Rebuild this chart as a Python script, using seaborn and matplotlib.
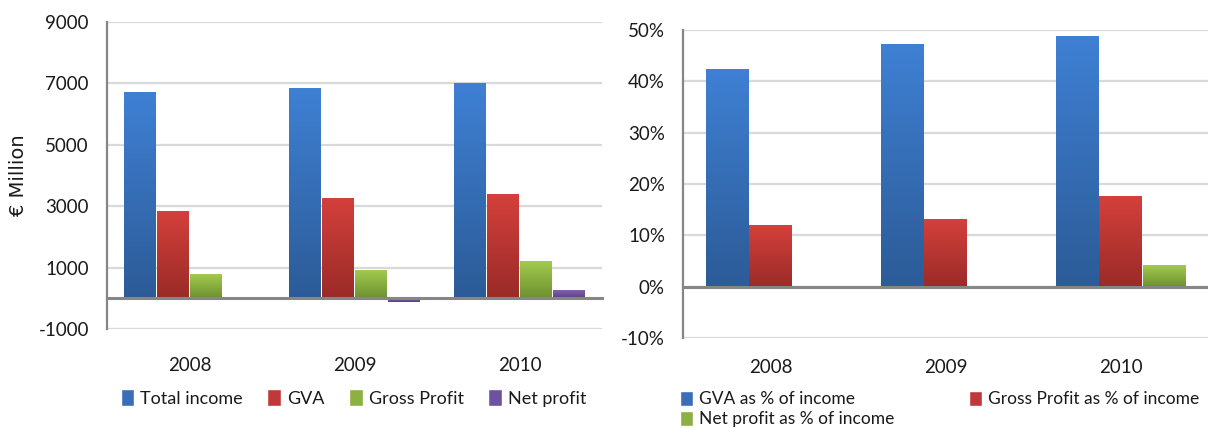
import numpy as np
import pandas as pd
import matplotlib
matplotlib.use("Agg")
import matplotlib.pyplot as plt
from matplotlib.ticker import PercentFormatter, FixedLocator
from matplotlib.colors import to_rgb
import seaborn as sns

# ---------------- data ----------------
years = ["2008", "2009", "2010"]

left_series = ["Total income", "GVA", "Gross Profit", "Net profit"]
total_income = [6690, 6830, 6990]
gva = [2810, 3230, 3360]
gross_profit = [770, 900, 1200]
net_profit = [-20, -110, 250]

right_series = ["GVA as % of income", "Gross Profit as % of income",
                "Net profit as % of income"]
gva_pct = [42.3, 47.2, 48.8]
gross_pct = [12.0, 13.2, 17.6]
net_pct = [-0.2, -0.5, 4.2]

left_yticks = [-1000, 1000, 3000, 5000, 7000, 9000]
right_yticks = [-10, 0, 10, 20, 30, 40, 50]

# ---------------- style ----------------
sns.set_style("white")
plt.rcParams["font.family"] = ["Lato", "DejaVu Sans"]
plt.rcParams["axes.unicode_minus"] = False

tops = ["#3F80D4", "#D4403B", "#A2CA4E", "#8262AE"]
bottoms = ["#2C5B97", "#9A2B28", "#6D9131", "#5C3F82"]
mids = ["#3A6FB8", "#C0393A", "#8CB042", "#7050A0"]
grid_c = "#D9D9D9"
axis_c = "#868686"
txt_c = "#1A1A1A"
FS = 13

left_df = pd.DataFrame({
    "year": np.repeat(years, 4),
    "series": left_series * 3,
    "value": np.ravel(np.column_stack([total_income, gva, gross_profit, net_profit])),
})
right_df = pd.DataFrame({
    "year": np.repeat(years, 3),
    "series": right_series * 3,
    "value": np.ravel(np.column_stack([gva_pct, gross_pct, net_pct])),
})

fig = plt.figure(figsize=(12.08, 4.28), dpi=100)
axL = fig.add_axes([107 / 1208, 1 - 329 / 428, 495 / 1208, 307 / 428])
axR = fig.add_axes([683 / 1208, 1 - 338 / 428, 525 / 1208, 308 / 428])


def gradient_bars(ax, gap):
    for i, cont in enumerate(ax.containers):
        t = np.array(to_rgb(tops[i]))
        b = np.array(to_rgb(bottoms[i]))
        n = 64
        f = np.linspace(0, 1, n)[:, None]
        img = (t[None, :] * (1 - f) + b[None, :] * f)[:, None, :]
        for p in cont.patches:
            x0, w = p.get_x(), p.get_width()
            y0, h = p.get_y(), p.get_height()
            lo, hi = min(y0, y0 + h), max(y0, y0 + h)
            p.set_visible(False)
            if hi - lo <= 0:
                continue
            ax.imshow(img, extent=[x0 + gap, x0 + w - gap, lo, hi], aspect="auto",
                      origin="upper", zorder=2, interpolation="bilinear")


def style_axis(ax, ylim, yticks, xlim, pad):
    ax.set_xlim(*xlim)
    ax.set_ylim(*ylim)
    ax.yaxis.set_major_locator(FixedLocator(yticks))
    ax.grid(axis="y", color=grid_c, linewidth=1.6, zorder=0)
    ax.set_axisbelow(True)
    for s in ["top", "right"]:
        ax.spines[s].set_visible(False)
    ax.spines["left"].set_color(axis_c)
    ax.spines["left"].set_linewidth(1.6)
    ax.spines["left"].set_zorder(4)
    ax.spines["bottom"].set_position(("data", 0))
    ax.spines["bottom"].set_color(axis_c)
    ax.spines["bottom"].set_linewidth(2.2)
    ax.spines["bottom"].set_zorder(4)
    ax.tick_params(axis="y", which="major", length=5, width=1.2, color=axis_c,
                   labelsize=FS + 0.5, labelcolor=txt_c, pad=8)
    ax.tick_params(axis="x", which="major", length=0, labelsize=FS + 0.5,
                   labelcolor=txt_c, pad=pad)
    ax.set_xticks([0.5, 1.5, 2.5], minor=True)
    ax.tick_params(axis="x", which="minor", length=7, width=1.4, color=axis_c,
                   direction="out")
    ax.set_xlabel("")
    ax.set_ylabel("")


# ---- left chart ----
sns.barplot(data=left_df, x="year", y="value", hue="series", palette=mids,
            width=0.8, saturation=1, ax=axL, legend=True)
hL, lL = axL.get_legend_handles_labels()
axL.get_legend().remove()
gradient_bars(axL, 0.004)
style_axis(axL, (-1000, 9000), left_yticks, (-0.5, 2.5), 42)
axL.set_ylabel("€ Million", fontsize=14, family="DejaVu Sans", color=txt_c)
axL.yaxis.set_label_coords(-0.16, 0.5)
axL.legend(hL, lL, loc="center", bbox_to_anchor=(0.498, -0.225), ncol=4,
           frameon=False, fontsize=FS, handlelength=0.75, handleheight=1.0,
           handletextpad=0.35, columnspacing=1.35, labelcolor=txt_c)

# ---- right chart ----
sns.barplot(data=right_df, x="year", y="value", hue="series", palette=mids[:3],
            width=0.75, saturation=1, ax=axR, legend=True)
hR, lR = axR.get_legend_handles_labels()
axR.get_legend().remove()
gradient_bars(axR, 0.004)
style_axis(axR, (-10, 50), right_yticks, (-0.5, -0.5 + 525 / 177.5), 52)
axR.yaxis.set_major_formatter(PercentFormatter(100, decimals=0))
order = [0, 2, 1]
axR.legend([hR[i] for i in order], [lR[i] for i in order], loc="upper left",
           bbox_to_anchor=(671 / 1208, 1 - 382 / 428), bbox_transform=fig.transFigure,
           ncol=2, frameon=False, fontsize=12.5, handlelength=0.75,
           handleheight=1.0, handletextpad=0.35, columnspacing=4.3,
           labelspacing=0.18, borderpad=0, labelcolor=txt_c)

fig.savefig("out.png", dpi=100)
